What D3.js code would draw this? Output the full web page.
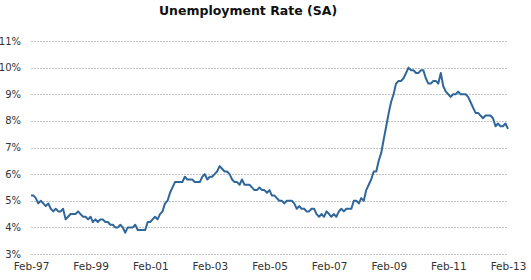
<!DOCTYPE html>
<html>
<head>
<meta charset="utf-8">
<script src="https://cdn.jsdelivr.net/npm/d3@7"></script>
<style>
	body { margin: 0; background: #fff; }
	svg { display: block; }
</style>
</head>
<body>
<svg></svg>
<script>

// the series starts at Feb-97 and is monthly
var startMonth = '1997-02';
var rates = [
	// 1997 (Feb..Dec)
	5.2, 5.2, 5.1, 4.9, 5.0, 4.9, 4.8, 4.9, 4.7, 4.6, 4.7,
	// 1998
	4.6, 4.6, 4.7, 4.3, 4.4, 4.5, 4.5, 4.5, 4.6, 4.5, 4.4, 4.4,
	// 1999
	4.3, 4.4, 4.2, 4.3, 4.2, 4.3, 4.3, 4.2, 4.2, 4.1, 4.1, 4.0,
	// 2000
	4.0, 4.1, 4.0, 3.8, 4.0, 4.0, 4.0, 4.1, 3.9, 3.9, 3.9, 3.9,
	// 2001
	4.2, 4.2, 4.3, 4.4, 4.3, 4.5, 4.6, 4.9, 5.0, 5.3, 5.5, 5.7,
	// 2002
	5.7, 5.7, 5.7, 5.9, 5.8, 5.8, 5.8, 5.7, 5.7, 5.7, 5.9, 6.0,
	// 2003
	5.8, 5.9, 5.9, 6.0, 6.1, 6.3, 6.2, 6.1, 6.1, 6.0, 5.8, 5.7,
	// 2004
	5.7, 5.6, 5.8, 5.6, 5.6, 5.6, 5.5, 5.4, 5.4, 5.5, 5.4, 5.4,
	// 2005
	5.3, 5.4, 5.2, 5.2, 5.1, 5.0, 5.0, 4.9, 5.0, 5.0, 5.0, 4.9,
	// 2006
	4.7, 4.8, 4.7, 4.7, 4.6, 4.6, 4.7, 4.7, 4.5, 4.4, 4.5, 4.4,
	// 2007
	4.6, 4.5, 4.4, 4.5, 4.4, 4.6, 4.7, 4.6, 4.7, 4.7, 4.7, 5.0,
	// 2008
	5.0, 4.9, 5.1, 5.0, 5.4, 5.6, 5.8, 6.1, 6.1, 6.5, 6.8, 7.3,
	// 2009
	7.8, 8.3, 8.7, 9.0, 9.4, 9.5, 9.5, 9.6, 9.8, 10.0, 9.9, 9.9,
	// 2010
	9.8, 9.8, 9.9, 9.9, 9.6, 9.4, 9.4, 9.5, 9.5, 9.4, 9.8, 9.3,
	// 2011
	9.1, 9.0, 8.9, 9.0, 9.0, 9.1, 9.0, 9.0, 9.0, 8.9, 8.7, 8.5,
	// 2012
	8.3, 8.3, 8.2, 8.1, 8.2, 8.2, 8.2, 8.1, 7.8, 7.9, 7.8, 7.8,
	// 2013 (Jan, Feb)
	7.9, 7.7
];

var yTicks = [3, 4, 5, 6, 7, 8, 9, 10, 11];
var xTickLabels = ['Feb-97', 'Feb-99', 'Feb-01', 'Feb-03', 'Feb-05', 'Feb-07', 'Feb-09', 'Feb-11', 'Feb-13'];

var CONF = {
	width: 531,
	height: 280,
	left: 31,
	right: 508,
	top: 41,
	bottom: 254,
	line: '#30679a',
	font: '"DejaVu Sans", Verdana, sans-serif'
};

function drawChart() {
	var svg = d3.select('svg')
		.attr('width', CONF.width)
		.attr('height', CONF.height);

	var parseMonth = d3.timeParse('%Y-%m');
	var start = parseMonth(startMonth);

	var data = rates.map(function(v, i) {
		return { date: d3.timeMonth.offset(start, i), value: v };
	});

	var x = d3.scaleTime()
		.domain([data[0].date, data[data.length-1].date])
		.range([CONF.left, CONF.right]);

	var y = d3.scaleLinear()
		.domain([3, 11])
		.range([CONF.bottom, CONF.top]);

	// dashed gridlines
	svg.append('g')
		.selectAll('line')
		.data(yTicks)
		.enter()
		.append('line')
			.attr('x1', CONF.left).attr('x2', CONF.right)
			.attr('y1', function(d) { return Math.round(y(d)) + 0.5; })
			.attr('y2', function(d) { return Math.round(y(d)) + 0.5; })
			.style('stroke', '#c4c4c4')
			.style('stroke-width', 1)
			.style('stroke-dasharray', '2,1');

	// y labels
	svg.append('g')
		.selectAll('text')
		.data(yTicks)
		.enter()
		.append('text')
			.attr('x', 21)
			.attr('y', function(d) { return y(d); })
			.attr('dy', '0.35em')
			.attr('text-anchor', 'end')
			.style('font-family', CONF.font)
			.style('font-size', '10px')
			.style('fill', '#333')
			.text(function(d) { return d + '%'; });

	// x labels, one every two years
	var fmt = d3.timeFormat('%b-%y');
	var xAxis = d3.axisBottom(x)
		.tickValues(xTickLabels.map(function(s) { return d3.timeParse('%b-%y')(s); }))
		.tickFormat(fmt)
		.tickSize(0)
		.tickPadding(0);

	var gx = svg.append('g')
		.attr('transform', 'translate(0,' + 263 + ')')
		.call(xAxis);
	gx.select('.domain').remove();
	gx.selectAll('text')
		.style('font-family', CONF.font)
		.style('font-size', '10.5px')
		.style('fill', '#333');

	// the series
	var line = d3.line()
		.x(function(d) { return x(d.date); })
		.y(function(d) { return y(d.value); });

	svg.append('path')
		.datum(data)
		.attr('d', line)
		.style('fill', 'none')
		.style('stroke', CONF.line)
		.style('stroke-width', 2)
		.style('stroke-linejoin', 'round');

	// title
	svg.append('text')
		.attr('x', 248)
		.attr('y', 15)
		.attr('text-anchor', 'middle')
		.style('font-family', CONF.font)
		.style('font-size', '12.5px')
		.style('font-weight', 'bold')
		.style('fill', '#111')
		.text('Unemployment Rate (SA)');
}

drawChart();
</script>
</body>
</html>
